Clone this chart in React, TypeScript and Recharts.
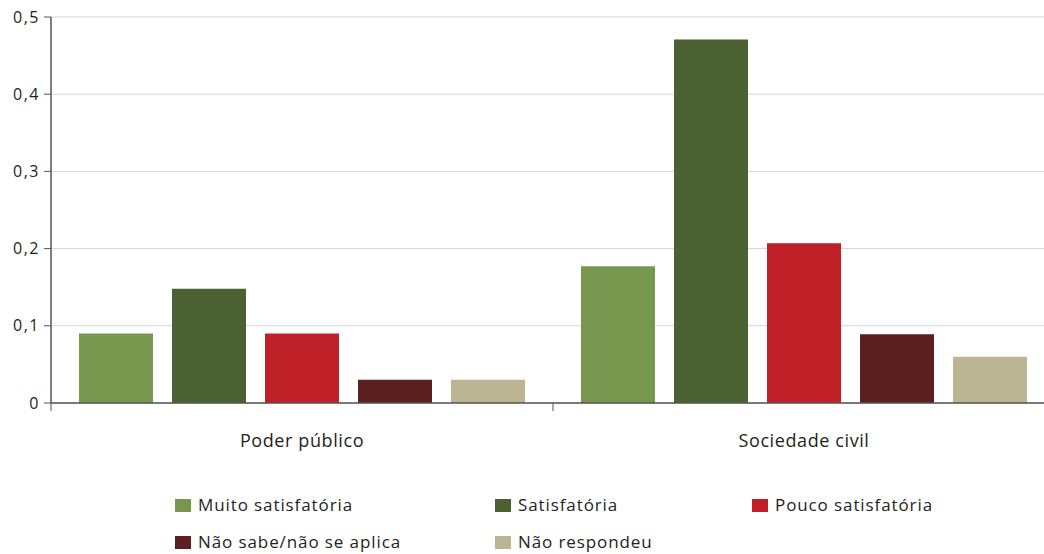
import { BarChart, Bar, XAxis, YAxis, CartesianGrid } from "recharts";

const categories = ["Poder público", "Sociedade civil"];
const muitoSatisfatoria = [0.09, 0.177];
const satisfatoria = [0.148, 0.471];
const poucoSatisfatoria = [0.09, 0.207];
const naoSabe = [0.03, 0.089];
const naoRespondeu = [0.03, 0.06];
const yTicks = [0, 0.1, 0.2, 0.3, 0.4, 0.5];

const SERIES = [
  { key: "muito", label: "Muito satisfatória", color: "#78974e", values: muitoSatisfatoria },
  { key: "satisf", label: "Satisfatória", color: "#4b6131", values: satisfatoria },
  { key: "pouco", label: "Pouco satisfatória", color: "#c02027", values: poucoSatisfatoria },
  { key: "naosabe", label: "Não sabe/não se aplica", color: "#5c2020", values: naoSabe },
  { key: "naoresp", label: "Não respondeu", color: "#bcb593", values: naoRespondeu },
];

const data = categories.map((name, i) => {
  const row: any = { name };
  SERIES.forEach((s) => (row[s.key] = s.values[i]));
  return row;
});

const FONT = "'Open Sans', sans-serif";
const INK = "#231f20";
const AXISLINE = "#555555";

function CategoryTick({ x, y, payload }: any) {
  const half = payload?.offset ?? 0;
  return (
    <g>
      <line x1={x - half} x2={x - half} y1={y} y2={y + 8} stroke={AXISLINE} strokeWidth={1} />
      <text
        x={x}
        y={y + 37}
        textAnchor="middle"
        dominantBaseline="central"
        fill={INK}
        fontSize={18}
        letterSpacing={0.6}
        fontFamily={FONT}
      >
        {payload.value}
      </text>
    </g>
  );
}

function LegendBox() {
  const cols = [175, 495, 752];
  return (
    <div style={{ position: "absolute", left: 0, top: 492, width: 1044 }}>
      {SERIES.map((s, i) => (
        <div
          key={s.key}
          style={{
            position: "absolute",
            left: cols[i % 3],
            top: Math.floor(i / 3) * 37,
            display: "flex",
            alignItems: "center",
            gap: 7,
            fontFamily: FONT,
            fontSize: 17,
            letterSpacing: 0.9,
            lineHeight: "26px",
            color: INK,
            whiteSpace: "nowrap",
          }}
        >
          <span style={{ width: 16, height: 13, background: s.color, display: "inline-block" }} />
          {s.label}
        </div>
      ))}
    </div>
  );
}

export default function App() {
  return (
    <div style={{ position: "fixed", left: 0, top: 0, width: 1044, height: 554, overflow: "hidden", background: "#fff" }}>
      <BarChart
        width={1060}
        height={554}
        data={data}
        margin={{ top: 17, right: 5, left: 0, bottom: 91 }}
        barGap={19}
        barCategoryGap={28}
      >
        <CartesianGrid vertical={false} stroke="#d4d4d4" strokeWidth={1} />
        <YAxis
          width={51}
          domain={[0, 0.5]}
          ticks={yTicks}
          interval={0}
          tickFormatter={(v: number) => (v === 0 ? "0" : v.toFixed(1).replace(".", ","))}
          tick={{ fill: INK, fontSize: 16, fontFamily: FONT, letterSpacing: 1.5 }}
          axisLine={{ stroke: AXISLINE, strokeWidth: 1.5 }}
          tickLine={{ stroke: AXISLINE }}
          tickSize={7}
          tickMargin={4}
        />
        <XAxis
          dataKey="name"
          height={60}
          axisLine={{ stroke: AXISLINE, strokeWidth: 1.5 }}
          tickLine={false}
          tickSize={0}
          tickMargin={0}
          tick={<CategoryTick />}
          interval={0}
        />
        {SERIES.map((s) => (
          <Bar key={s.key} dataKey={s.key} name={s.label} fill={s.color} barSize={74} isAnimationActive={false} />
        ))}
      </BarChart>
      <LegendBox />
    </div>
  );
}
